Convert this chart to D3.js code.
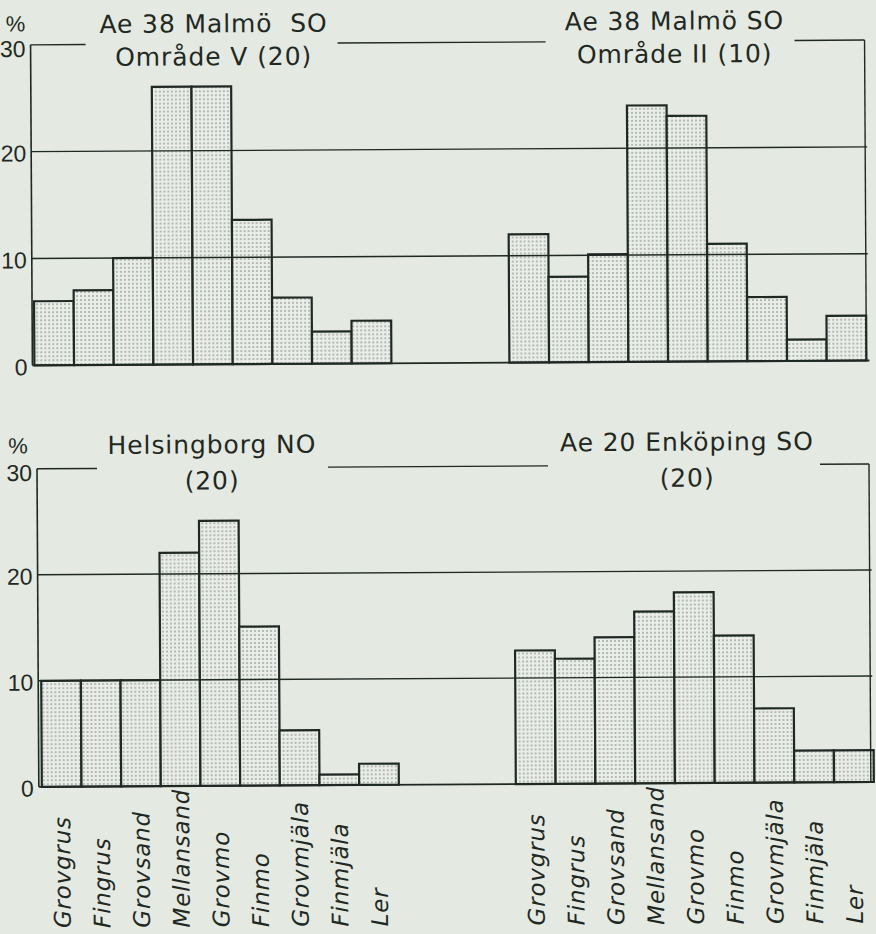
<!DOCTYPE html>
<html>
<head>
<meta charset="utf-8">
<script src="https://cdn.jsdelivr.net/npm/d3@7"></script>
<style>
  html, body { margin: 0; padding: 0; background: #e4e9e1; }
  svg { display: block; }
  .title { font-family: "DejaVu Sans", sans-serif; font-size: 25px; fill: #1f2924; letter-spacing: 0.9px; white-space: pre; }
  .tick text { font-family: "Liberation Sans", sans-serif; font-size: 23px; fill: #1f2924; }
  .xlab { font-family: "DejaVu Sans", sans-serif; font-style: italic; font-size: 23px; fill: #1f2924; letter-spacing: 0.8px; }
  .pct { font-family: "Liberation Sans", sans-serif; font-size: 22px; fill: #1f2924; }
</style>
</head>
<body>
<script>
// Data (percent per grain size class)
const categories = ["Grovgrus", "Fingrus", "Grovsand", "Mellansand", "Grovmo", "Finmo", "Grovmjäla", "Finmjäla", "Ler"];
const malmoV = [6, 7, 10, 26, 26, 13.5, 6.2, 3, 4];
const malmoII = [12, 8, 10.1, 24, 23, 11, 6, 2, 4.2];
const helsingborg = [10, 10, 10, 22, 25, 15, 5.2, 1, 2];
const enkoping = [12.6, 11.8, 13.8, 16.2, 18, 13.9, 7, 3, 3];
const yTicks = [0, 10, 20, 30];
const gridTicks = [10, 20];

const width = 876, height = 934;
const ink = "#1f2924";

const svg = d3.select("body").append("svg")
  .attr("width", width)
  .attr("height", height);

// dotted raster for the bars
const defs = svg.append("defs");
const pat = defs.append("pattern")
  .attr("id", "dots")
  .attr("width", 4).attr("height", 4)
  .attr("patternUnits", "userSpaceOnUse");
pat.append("rect").attr("width", 4).attr("height", 4).attr("fill", "#eaeee8");
pat.append("rect").attr("x", 1.3).attr("y", 1.3).attr("width", 1.4).attr("height", 1.4).attr("fill", "#7a827d");

// the scan is slightly tilted
const g = svg.append("g").attr("transform", "rotate(-0.33, 438, 467)");

// Rows (one frame each, two histograms inside)
const rows = [
  { y0: 363, y30: 42.5, axisX: 33, right: 867, gaps: [[88, 340], [548, 797]], pctY: 30,
    panels: [
      { x0: 35, x1: 392, values: malmoV, title: ["Ae 38 Malmö  SO", "Område V (20)"], tx: 216, ty: [31, 64] },
      { x0: 510, x1: 867, values: malmoII, title: ["Ae 38 Malmö SO", "Område II (10)"], tx: 677, ty: [31, 64] }
    ] },
  { y0: 784.5, y30: 466.5, axisX: 37, right: 869, gaps: [[97, 328], [548, 820]], pctY: 452, labels: true,
    panels: [
      { x0: 40, x1: 397, values: helsingborg, title: ["Helsingborg NO", "(20)"], tx: 212, ty: [452, 488] },
      { x0: 514, x1: 872, values: enkoping, title: ["Ae 20 Enköping SO", "(20)"], tx: 687, ty: [452, 488] }
    ] }
];

rows.forEach((row) => {
  const y = d3.scaleLinear().domain([0, 30]).range([row.y0, row.y30]);
  const rg = g.append("g");

  // bars
  row.panels.forEach((p) => {
    const x = d3.scaleBand().domain(categories).range([p.x0, p.x1]).padding(0);
    rg.append("g")
      .selectAll("rect")
      .data(p.values)
      .enter()
      .append("rect")
      .attr("x", (d, i) => x(categories[i]))
      .attr("y", (d) => y(d))
      .attr("width", x.bandwidth())
      .attr("height", (d) => y(0) - y(d))
      .attr("fill", "url(#dots)")
      .attr("stroke", ink)
      .attr("stroke-width", 2.2);

    // titles
    p.title.forEach((t, i) => {
      rg.append("text")
        .attr("class", "title")
        .attr("x", p.tx)
        .attr("y", p.ty[i])
        .attr("text-anchor", "middle")
        .text(t);
    });

    // category labels under the lower row
    if (row.labels) {
      rg.append("g")
        .selectAll("text")
        .data(categories)
        .enter()
        .append("text")
        .attr("class", "xlab")
        .attr("transform", (d) => `translate(${x(d) + x.bandwidth() / 2}, 926) rotate(-90)`)
        .attr("dy", "0.36em")
        .text((d) => d);
    }
  });

  // gridlines on top of the bars
  rg.append("g")
    .selectAll("line")
    .data(gridTicks)
    .enter()
    .append("line")
    .attr("x1", row.axisX).attr("x2", row.right + 2)
    .attr("y1", (d) => y(d)).attr("y2", (d) => y(d))
    .attr("stroke", ink).attr("stroke-width", 1.4);

  // baseline
  rg.append("line")
    .attr("x1", row.axisX).attr("x2", row.right + 3)
    .attr("y1", y(0)).attr("y2", y(0))
    .attr("stroke", ink).attr("stroke-width", 1.8);

  // top frame line with gaps for the titles
  const segs = [[row.axisX, row.gaps[0][0]], [row.gaps[0][1], row.gaps[1][0]], [row.gaps[1][1], row.right]];
  rg.append("g")
    .selectAll("line")
    .data(segs)
    .enter()
    .append("line")
    .attr("x1", (d) => d[0]).attr("x2", (d) => d[1])
    .attr("y1", y(30)).attr("y2", y(30))
    .attr("stroke", ink).attr("stroke-width", 1.4);

  // left and right verticals
  rg.append("line")
    .attr("x1", row.axisX).attr("x2", row.axisX)
    .attr("y1", y(30)).attr("y2", y(0))
    .attr("stroke", ink).attr("stroke-width", 1.6);
  rg.append("line")
    .attr("x1", row.right).attr("x2", row.right)
    .attr("y1", y(30)).attr("y2", y(0))
    .attr("stroke", ink).attr("stroke-width", 1.4);

  // y axis labels
  const yAxis = d3.axisLeft(y).tickValues(yTicks).tickSize(0).tickPadding(5);
  const ax = rg.append("g")
    .attr("transform", `translate(${row.axisX}, 0)`)
    .call(yAxis);
  ax.select(".domain").remove();
  ax.selectAll(".tick text").attr("dy", (d) => (d === 30 ? "0.5em" : "0.4em"));

  rg.append("text")
    .attr("class", "pct")
    .attr("x", 18)
    .attr("y", row.pctY - 1)
    .attr("text-anchor", "middle")
    .text("%");
});
</script>
</body>
</html>
